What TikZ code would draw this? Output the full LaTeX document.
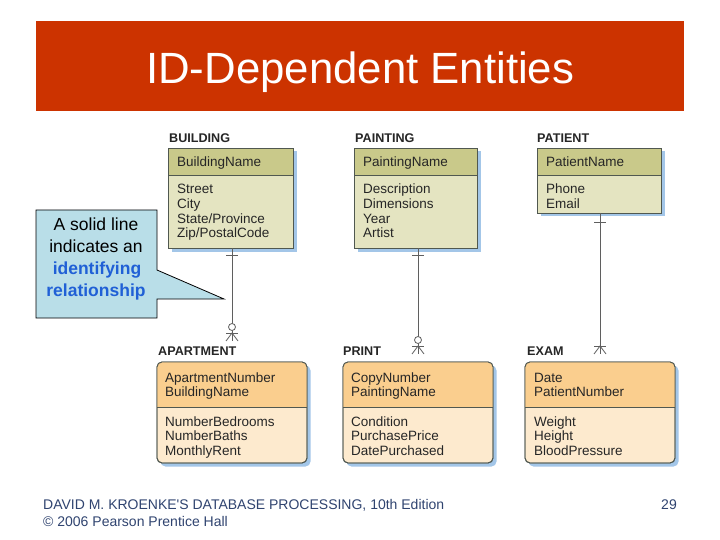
\documentclass[tikz,border=0pt]{standalone}
\usepackage{fontspec}
\setmainfont{Liberation Sans}
\usepackage{tikz}
\usetikzlibrary{calc,positioning,shadows}

\definecolor{titlered}{RGB}{204,51,0}
\definecolor{keyolive}{RGB}{201,201,138}
\definecolor{attrolive}{RGB}{228,228,193}
\definecolor{keyorange}{RGB}{250,206,142}
\definecolor{attrorange}{RGB}{253,234,206}
\definecolor{entline}{RGB}{80,88,80}
\definecolor{shadowblue}{RGB}{163,198,232}
\definecolor{relgray}{RGB}{95,95,95}
\definecolor{calloutfill}{RGB}{185,222,232}
\definecolor{calloutblue}{RGB}{32,96,214}
\definecolor{footerblue}{RGB}{48,68,112}

\begin{document}
\begin{tikzpicture}[x=1pt,y=-1pt,
    entity/.style={draw=entline,line width=.9pt,inner sep=0pt,outer sep=0pt,anchor=north west,
      drop shadow={shadow xshift=3.5pt,shadow yshift=-3.5pt,fill=shadowblue,opacity=1}},
    keyhead/.style={draw=entline,line width=.9pt,fill=keyolive,inner sep=0pt,outer sep=0pt,anchor=north west},
    attr/.style={anchor=base west,inner sep=0pt,font=\fontsize{13.5}{14.5}\selectfont,text=black!85},
    entlabel/.style={anchor=base west,inner sep=0pt,font=\fontsize{12.6}{14}\selectfont\bfseries,text=black!85},
    rel/.style={draw=relgray,line width=.8pt},
    note/.style={anchor=base,inner sep=0pt,font=\fontsize{17.5}{22}\selectfont},
    footer/.style={inner sep=0pt,font=\fontsize{14}{17}\selectfont,text=footerblue},
  ]
  \useasboundingbox (0,0) rectangle (720,540);
  \fill[white] (0,0) rectangle (720,540);

  % title bar
  \node[fill=titlered,minimum width=648,minimum height=90,inner sep=0pt,anchor=north west] (titlebar) at (36,21) {};
  \node[anchor=base,inner sep=0pt,text=white,font=\fontsize{43.75}{48}\selectfont] (title) at ($(titlebar.north)+(0,63)$) {ID-Dependent Entities};

  % strong entities
  \node[entity,fill=attrolive,minimum width=125,minimum height=100] (bldg) at (168,148) {};
  \node[keyhead,minimum width=125,minimum height=27] (bldgKey) at (bldg.north west) {};
  \node[entlabel] (bldgLabel) at ($(bldg.north west)+(1,-5)$) {BUILDING};
  \node[attr] (bldgK1) at ($(bldg.north west)+(9,19)$) {BuildingName};
  \node[attr] (bldgA1) at ($(bldg.north west)+(9,46)$) {Street};
  \node[attr] (bldgA2) at ($(bldg.north west)+(9,60.5)$) {City};
  \node[attr] (bldgA3) at ($(bldg.north west)+(9,75)$) {State/Province};
  \node[attr] (bldgA4) at ($(bldg.north west)+(9,89.5)$) {Zip/PostalCode};

  \node[entity,fill=attrolive,minimum width=123,minimum height=100] (pnt) at (354,148) {};
  \node[keyhead,minimum width=123,minimum height=27] (pntKey) at (pnt.north west) {};
  \node[entlabel] (pntLabel) at ($(pnt.north west)+(1,-5)$) {PAINTING};
  \node[attr] (pntK1) at ($(pnt.north west)+(9,19)$) {PaintingName};
  \node[attr] (pntA1) at ($(pnt.north west)+(9,46)$) {Description};
  \node[attr] (pntA2) at ($(pnt.north west)+(9,60.5)$) {Dimensions};
  \node[attr] (pntA3) at ($(pnt.north west)+(9,75)$) {Year};
  \node[attr] (pntA4) at ($(pnt.north west)+(9,89.5)$) {Artist};

  \node[entity,fill=attrolive,minimum width=124,minimum height=65] (pat) at (537,148) {};
  \node[keyhead,minimum width=124,minimum height=27] (patKey) at (pat.north west) {};
  \node[entlabel] (patLabel) at ($(pat.north west)+(0,-5)$) {PATIENT};
  \node[attr] (patK1) at ($(pat.north west)+(9,19)$) {PatientName};
  \node[attr] (patA1) at ($(pat.north west)+(9,46)$) {Phone};
  \node[attr] (patA2) at ($(pat.north west)+(9,60.5)$) {Email};

  % ID-dependent entities
  \node[entity,rounded corners=5,fill=attrorange,minimum width=150,minimum height=101] (apt) at (157,362) {};
  \node[entity,rounded corners=5,fill=attrorange,minimum width=150,minimum height=101] (prt) at (343,362) {};
  \node[entity,rounded corners=5,fill=attrorange,minimum width=150,minimum height=101] (exam) at (525,362) {};
  \foreach \e in {apt,prt,exam}{
    \begin{scope}
      \clip[rounded corners=5] (\e.north west) rectangle (\e.south east);
      \fill[keyorange] (\e.north west) rectangle ($(\e.north east)+(0,45.5)$);
    \end{scope}
    \draw[draw=entline,line width=.9pt] ($(\e.north west)+(0,45.5)$) -- ($(\e.north east)+(0,45.5)$);
    \draw[draw=entline,line width=.9pt,rounded corners=5] (\e.north west) rectangle (\e.south east);
  }
  \node[entlabel] (aptLabel) at ($(apt.north west)+(1,-7)$) {APARTMENT};
  \node[attr] (aptK1) at ($(apt.north west)+(8,20)$) {ApartmentNumber};
  \node[attr] (aptK2) at ($(apt.north west)+(8,34.5)$) {BuildingName};
  \node[attr] (aptA1) at ($(apt.north west)+(8,64)$) {NumberBedrooms};
  \node[attr] (aptA2) at ($(apt.north west)+(8,78.5)$) {NumberBaths};
  \node[attr] (aptA3) at ($(apt.north west)+(8,93)$) {MonthlyRent};

  \node[entlabel] (prtLabel) at ($(prt.north west)+(0,-7)$) {PRINT};
  \node[attr] (prtK1) at ($(prt.north west)+(8,20)$) {CopyNumber};
  \node[attr] (prtK2) at ($(prt.north west)+(8,34.5)$) {PaintingName};
  \node[attr] (prtA1) at ($(prt.north west)+(8,64)$) {Condition};
  \node[attr] (prtA2) at ($(prt.north west)+(8,78.5)$) {PurchasePrice};
  \node[attr] (prtA3) at ($(prt.north west)+(8,93)$) {DatePurchased};

  \node[entlabel] (examLabel) at ($(exam.north west)+(2,-7)$) {EXAM};
  \node[attr] (examK1) at ($(exam.north west)+(9,20)$) {Date};
  \node[attr] (examK2) at ($(exam.north west)+(9,34.5)$) {PatientNumber};
  \node[attr] (examA1) at ($(exam.north west)+(9,64)$) {Weight};
  \node[attr] (examA2) at ($(exam.north west)+(9,78.5)$) {Height};
  \node[attr] (examA3) at ($(exam.north west)+(9,93)$) {BloodPressure};

  % identifying relationships
  \coordinate (aptEnd) at ($(apt.north)+(0,-21)$);
  \coordinate (prtEnd) at ($(prt.north)+(0,-8)$);
  \coordinate (examEnd) at ($(exam.north)+(0,-8)$);

  \draw[rel] (bldg.south -| aptEnd) -- (aptEnd);
  \draw[rel] ($(bldg.south -| aptEnd)+(-6,7)$) -- ++(12,0);
  \draw[rel,fill=white] ($(aptEnd)+(0,-14)$) circle[radius=3.5];
  \draw[rel] ($(aptEnd)+(-6,-8)$) -- ++(12,0);
  \draw[rel] ($(aptEnd)+(-6,0)$) -- ($(aptEnd)+(0,-8)$) -- ($(aptEnd)+(6,0)$);

  \draw[rel] (pnt.south -| prtEnd) -- (prtEnd);
  \draw[rel] ($(pnt.south -| prtEnd)+(-6,7)$) -- ++(12,0);
  \draw[rel,fill=white] ($(prtEnd)+(0,-14)$) circle[radius=3.5];
  \draw[rel] ($(prtEnd)+(-6,-8)$) -- ++(12,0);
  \draw[rel] ($(prtEnd)+(-6,0)$) -- ($(prtEnd)+(0,-8)$) -- ($(prtEnd)+(6,0)$);

  \draw[rel] (pat.south -| examEnd) -- (examEnd);
  \draw[rel] ($(pat.south -| examEnd)+(-6,9)$) -- ++(12,0);
  \draw[rel] ($(examEnd)+(-6,-8)$) -- ++(12,0);
  \draw[rel] ($(examEnd)+(-6,0)$) -- ($(examEnd)+(0,-8)$) -- ($(examEnd)+(6,0)$);

  % callout
  \coordinate (tip) at (224,299);
  \filldraw[draw=black,fill=calloutfill,line width=.8pt]
    (36,210) -- (157,210) -- (157,270) -- (tip) -- (157,299) -- (157,318) -- (36,318) -- cycle;
  \node[note] (note1) at (96,230.5) {A solid line};
  \node[note] (note2) at (96,252.5) {indicates an};
  \node[note,text=calloutblue,font=\fontsize{17.5}{22}\selectfont\bfseries] (note3) at (97,274.5) {identifying};
  \node[note,text=calloutblue,font=\fontsize{17.5}{22}\selectfont\bfseries] (note4) at (96,296.5) {relationship};

  % footer
  \node[footer,anchor=base west] (credit) at (43,509) {DAVID M. KROENKE\textquotesingle S DATABASE PROCESSING, 10th Edition};
  \node[footer,anchor=base west] (copyr) at (43,526) {\textcopyright{} 2006 Pearson Prentice Hall};
  \node[footer,anchor=base east] (page) at (677,509) {29};
\end{tikzpicture}
\end{document}
